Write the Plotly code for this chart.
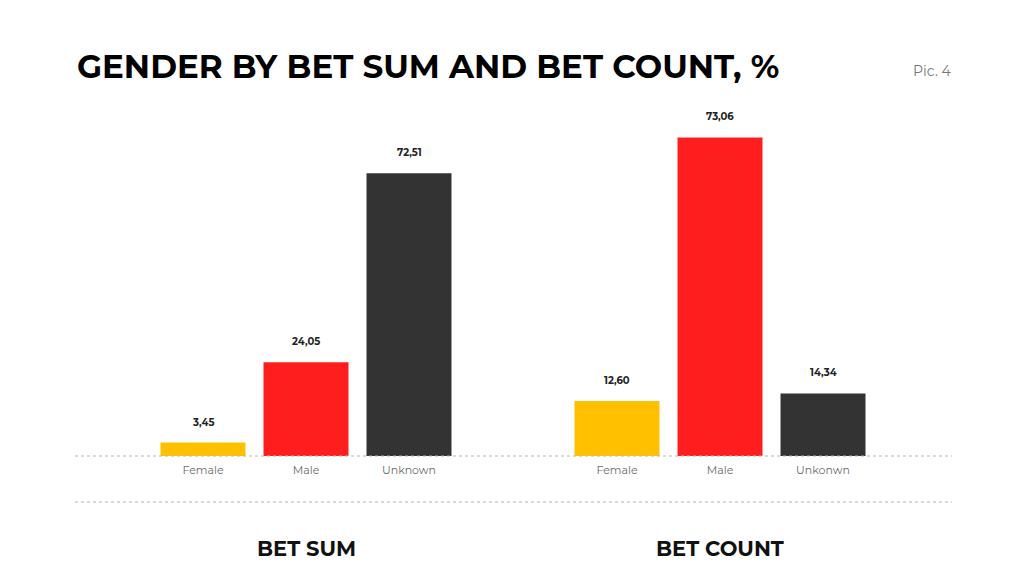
import plotly.graph_objects as go
from plotly.subplots import make_subplots

# ---- data ----
sum_categories = ["Female", "Male", "Unknown"]
sum_values = [3.45, 24.05, 72.51]
count_categories = ["Female", "Male", "Unkonwn"]
count_values = [12.60, 73.06, 14.34]
bar_colors = ["#FFC000", "#FF1E1E", "#333333"]
group_titles = ["BET SUM", "BET COUNT"]
title_text = "GENDER BY BET SUM AND BET COUNT, %"
pic_label = "Pic. 4"

OFF = 8  # page body margin
W, H = 1024 - OFF, 576 - OFF
top_px, base_px = 130 - OFF, 456 - OFF
plot_h = base_px - top_px


def px(x):
    return (x - OFF) / W


def py(y):
    return (base_px - (y - OFF)) / plot_h


fig = make_subplots(rows=1, cols=2)

fig.add_trace(go.Bar(x=sum_categories, y=sum_values, marker=dict(color=bar_colors, line=dict(width=0)),
                     showlegend=False, hoverinfo="skip"), row=1, col=1)
fig.add_trace(go.Bar(x=count_categories, y=count_values, marker=dict(color=bar_colors, line=dict(width=0)),
                     showlegend=False, hoverinfo="skip"), row=1, col=2)

left_dom = [px(151.5), px(460.5)]
right_dom = [px(565.5), px(874.5)]

tickfont = dict(family="Montserrat, Lato, Open Sans, sans-serif", size=11, color="#6a6a6a")
fig.update_xaxes(showgrid=False, zeroline=False, showline=False, ticks="", tickfont=tickfont,
                 range=[-0.5, 2.5], ticklabelstandoff=6)
fig.update_layout(xaxis=dict(domain=left_dom), xaxis2=dict(domain=right_dom))
fig.update_yaxes(visible=False, showgrid=False, zeroline=False)
fig.update_layout(yaxis=dict(range=[0, plot_h / 3.90], domain=[0, 1]),
                  yaxis2=dict(range=[0, plot_h / 4.36], domain=[0, 1]))

annotations = []
for xr, yr, cats, vals in [("x", "y", sum_categories, sum_values), ("x2", "y2", count_categories, count_values)]:
    for c, v in zip(cats, vals):
        annotations.append(dict(x=c, y=v, xref=xr, yref=yr, text=f"{v:.2f}".replace(".", ","),
                                showarrow=False, yanchor="bottom", yshift=12,
                                font=dict(family="Montserrat, Lato, sans-serif", size=10, color="#222222", weight="bold")))

for dom, t in zip([left_dom, right_dom], group_titles):
    annotations.append(dict(x=(dom[0] + dom[1]) / 2, y=py(548), xref="paper", yref="paper",
                            text=f"<b>{t}</b>", showarrow=False, yanchor="middle", xanchor="center",
                            font=dict(family="Montserrat, Lato, sans-serif", size=21, color="#111111")))

annotations.append(dict(x=px(75), y=py(66), xref="paper", yref="paper",
                        text=f"<b>{title_text}</b>", showarrow=False, xanchor="left", yanchor="middle",
                        font=dict(family="Montserrat, DejaVu Sans, sans-serif", size=32.5, color="#000000")))
annotations.append(dict(x=px(954), y=py(71), xref="paper", yref="paper",
                        text=pic_label, showarrow=False, xanchor="right", yanchor="middle",
                        font=dict(family="Montserrat, Lato, sans-serif", size=14, color="#777777")))

shapes = []
for ypx in [456, 502]:
    shapes.append(dict(type="line", xref="paper", yref="paper", x0=px(75), x1=px(952),
                       y0=py(ypx), y1=py(ypx),
                       line=dict(color="#b5b5b5", width=1, dash="dot"), layer="above"))

fig.update_layout(width=W, height=H, margin=dict(l=0, r=0, t=top_px, b=H - base_px),
                  paper_bgcolor="white", plot_bgcolor="rgba(0,0,0,0)",
                  bargap=0.175, annotations=annotations, shapes=shapes, separators=",.")

fig.write_html("out.html")
